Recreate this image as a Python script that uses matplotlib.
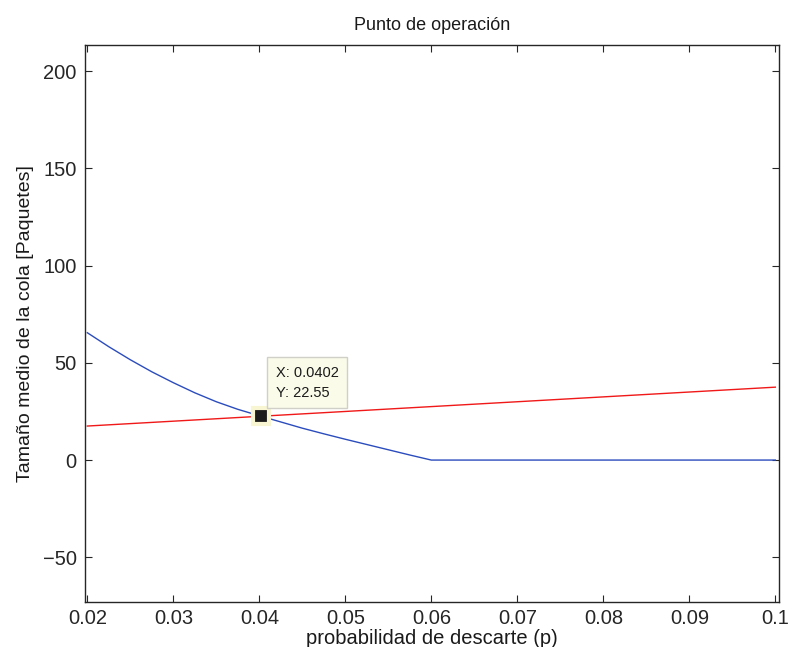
import matplotlib
matplotlib.use("Agg")
import matplotlib.pyplot as plt

plt.rcParams['font.family'] = ['Liberation Sans', 'DejaVu Sans']

# Data
p_blue = [0.02, 0.0225, 0.025, 0.0275, 0.03, 0.0325, 0.035, 0.0375, 0.04,
          0.0425, 0.045, 0.0475, 0.05, 0.0525, 0.055, 0.0575, 0.06, 0.1]
q_blue = [65.5, 58.3, 51.6, 45.4, 39.8, 34.6, 30.0, 26.1, 22.8,
          19.6, 16.4, 13.5, 10.7, 8.0, 5.3, 2.6, 0.0, 0.0]
p_red = [0.02, 0.1]
q_red = [17.5, 37.5]
tip_x = 0.0402
tip_y = 22.55
x_ticks = [0.02, 0.03, 0.04, 0.05, 0.06, 0.07, 0.08, 0.09, 0.1]
x_ticklabels = ['0.02', '0.03', '0.04', '0.05', '0.06', '0.07', '0.08', '0.09', '0.1']
y_ticks = [-50, 0, 50, 100, 150, 200]
y_ticklabels = ['\u221250', '0', '50', '100', '150', '200']

fig = plt.figure(figsize=(7.9, 6.47), dpi=100)
ax = fig.add_axes([0.1076, 0.0696, 0.8785, 0.8608])

ax.plot(p_blue, q_blue, color='#2b4cbd', lw=1.0)
ax.plot(p_red, q_red, color='#f01818', lw=1.0)

ax.plot([tip_x], [tip_y], marker='s', markersize=11, markerfacecolor='#1c1c1c',
        markeredgecolor='#f7f5d2', markeredgewidth=3, zorder=5)
ax.annotate(f"X: {tip_x}\nY: {tip_y}", xy=(tip_x, tip_y), xytext=(10.5, 12),
            textcoords='offset points', ha='left', va='bottom', fontsize=10.5,
            color='#1a1a1a', linespacing=1.5,
            bbox=dict(boxstyle='square,pad=0.6', facecolor='#fbfbea',
                      edgecolor='#d0d0c8', lw=1.0), zorder=6)

ax.set_xlim(0.01973, 0.10043)
ax.set_ylim(-73, 213.5)
ax.set_xticks(x_ticks)
ax.set_xticklabels(x_ticklabels)
ax.set_yticks(y_ticks)
ax.set_yticklabels(y_ticklabels)
ax.tick_params(direction='in', length=5, width=0.8, top=True, right=True,
               labelsize=14.5, colors='#262626', pad=6)
ax.tick_params(axis='x', pad=5)
for s in ax.spines.values():
    s.set_color('#262626')
    s.set_linewidth(1.0)

ax.set_title('Punto de operación', fontsize=13, pad=11, color='#1a1a1a')
ax.set_xlabel('probabilidad de descarte (p)', fontsize=14.5, labelpad=1, color='#1a1a1a')
ax.set_ylabel('Tamaño medio de la cola [Paquetes]', fontsize=14, labelpad=6, color='#1a1a1a')

fig.savefig('out.png', dpi=100, facecolor='white')
